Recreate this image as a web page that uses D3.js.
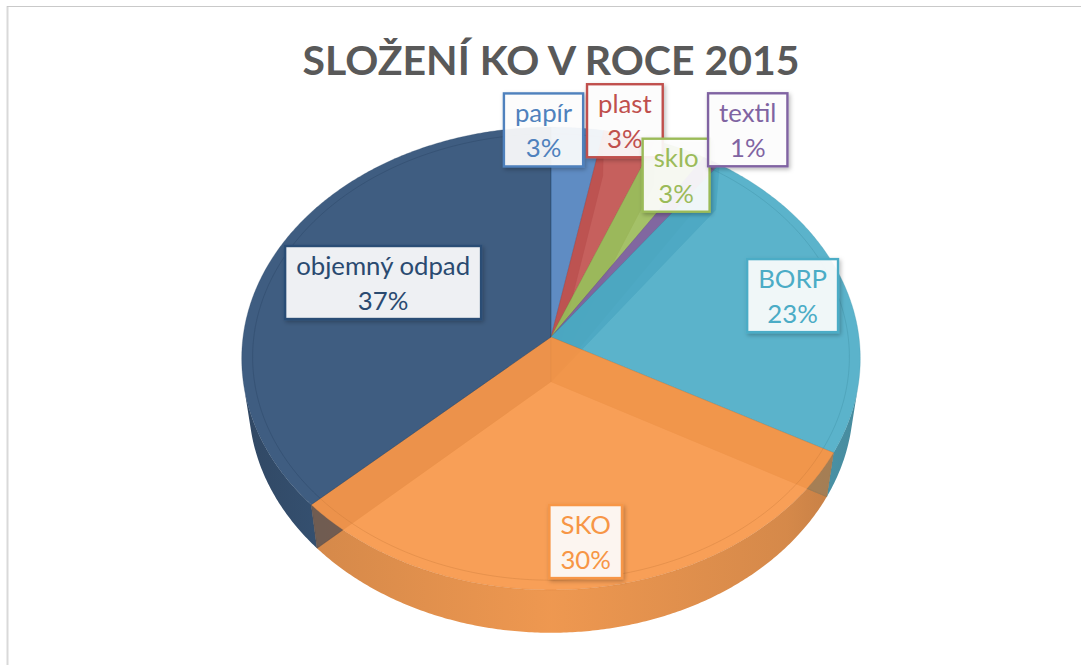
<!DOCTYPE html>
<html><head><meta charset="utf-8">
<script src="https://cdn.jsdelivr.net/npm/d3@7/dist/d3.min.js"></script>
<style>html,body{margin:0;padding:0;background:#fff;}svg{display:block;}</style>
</head><body>
<svg id="chart" width="1081" height="665"></svg>
<script>
// ---- data ----
const chartTitle = 'SLOŽENÍ KO V ROCE 2015';
const categories = ['papír', 'plast', 'sklo', 'textil', 'BORP', 'SKO', 'objemný odpad'];
const values = [3, 3, 3, 1, 23, 30, 37];
const percentLabels = ['3%', '3%', '3%', '1%', '23%', '30%', '37%'];
const seriesColors = ['#4F81BD', '#C0504D', '#9BBB59', '#8064A2', '#4BACC6', '#F79646', '#2C4D75'];

// ---- layout ----
const W = 1081, H = 665;
const cx = 551, cy = 337;            // projected pie centre
const focal = 2208, camDist = 7.17;   // perspective camera
const sinA = 0.745, cosA = 0.666;     // elevation
const depth = 0.223;                  // pie thickness (unit radius)
// label anchors: radius on slice mid angle + pixel nudges
const labelLayout = [
  {r: 1.0, dx: -34, dy: 2}, {r: 1.0, dx: -5, dy: -14}, {r: 1.0, dx: -4, dy: 27},
  {r: 1.0, dx: 36, dy: -31}, {r: 0.8, dx: 5, dy: -2}, {r: 0.83, dx: 0, dy: 0},
  {r: 0.6, dx: -2, dy: -1}
];

const svg = d3.select('#chart');
const defs = svg.append('defs');
const sh = defs.append('filter').attr('id', 'shadow').attr('x', '-20%').attr('y', '-20%').attr('width', '150%').attr('height', '150%');
sh.append('feDropShadow').attr('dx', 1.5).attr('dy', 2).attr('stdDeviation', 2).attr('flood-color', '#000').attr('flood-opacity', 0.28);

// chart border
svg.append('line').attr('x1', 7.5).attr('x2', 7.5).attr('y1', 6).attr('y2', H).attr('stroke', '#d9d9d9').attr('stroke-width', 2);
svg.append('line').attr('x1', 7).attr('x2', W).attr('y1', 6.5).attr('y2', 6.5).attr('stroke', '#c9c9c9').attr('stroke-width', 1);

// projection
function project(theta, r, y) {
  const X = r * Math.sin(theta), Z = -r * Math.cos(theta), Y = y;
  const d = camDist - (Y * sinA + Z * cosA);
  return [cx + focal * X / d, cy - focal * (Y * cosA - Z * sinA) / d];
}
const pie = d3.pie().sort(null).value(d => d).startAngle(0).endAngle(2 * Math.PI);
const arcs = pie(values);
const line = d3.line();
function arcPts(a0, a1, r, y) {
  const n = Math.max(2, Math.ceil((a1 - a0) / (Math.PI / 360)));
  return d3.range(n + 1).map(i => project(a0 + (a1 - a0) * i / n, r, y));
}

const pieG = svg.append('g');
const xExt = [cx - 310, cx + 310];

// wall gradients
seriesColors.forEach((c, i) => {
  const g = defs.append('linearGradient').attr('id', 'wall' + i).attr('gradientUnits', 'userSpaceOnUse')
    .attr('x1', xExt[0]).attr('x2', xExt[1]).attr('y1', 0).attr('y2', 0);
  const base = d3.color(c);
  [[0, 0.8], [0.12, 0.45], [0.5, 0.12], [0.88, 0.45], [1, 0.8]].forEach(([o, k]) => {
    g.append('stop').attr('offset', o).attr('stop-color', base.darker(k).formatHex());
  });
});

// outer walls (front visible part)
const visLo = Math.acos(-1 / (camDist * cosA)), visHi = 2 * Math.PI - visLo;
arcs.forEach((a, i) => {
  const a0 = Math.max(a.startAngle, visLo), a1 = Math.min(a.endAngle, visHi);
  if (a1 <= a0) return;
  const top = arcPts(a0, a1, 1, 0), bot = arcPts(a0, a1, 1, -depth).reverse();
  pieG.append('path').attr('d', line(top.concat(bot)) + 'Z')
    .attr('fill', `url(#wall${i})`).attr('fill-opacity', 0.93);
});
// radial walls
arcs.forEach((a, i) => {
  [a.startAngle, a.endAngle].forEach(t => {
    const pts = [project(t, 0, 0), project(t, 1, 0), project(t, 1, -depth), project(t, 0, -depth)];
    pieG.append('path').attr('d', line(pts) + 'Z')
      .attr('fill', d3.color(seriesColors[i]).darker(0.6).formatHex()).attr('fill-opacity', 0.55)
      .attr('stroke', d3.color(seriesColors[i]).darker(0.8).formatHex()).attr('stroke-opacity', 0.3).attr('stroke-width', 0.8);
  });
});
// tops
arcs.forEach((a, i) => {
  const pts = [project(0, 0, 0)].concat(arcPts(a.startAngle, a.endAngle, 1, 0));
  pieG.append('path').attr('d', line(pts) + 'Z')
    .attr('fill', seriesColors[i]).attr('fill-opacity', 0.91)
    .attr('stroke', d3.color(seriesColors[i]).darker(0.5).formatHex()).attr('stroke-opacity', 0.35).attr('stroke-width', 0.8);
});
// bevel ring
arcs.forEach((a, i) => {
  pieG.append('path').attr('d', line(arcPts(a.startAngle, a.endAngle, 0.965, 0)))
    .attr('fill', 'none').attr('stroke', d3.color(seriesColors[i]).darker(0.6).formatHex())
    .attr('stroke-opacity', 0.35).attr('stroke-width', 1);
});

// title
const title = svg.append('text').text(chartTitle)
  .attr('x', cx).attr('y', 75).attr('text-anchor', 'middle')
  .style('font-family', 'Lato, "Open Sans", sans-serif').style('font-weight', 700)
  .style('font-size', '48px').attr('fill', '#595959');
const tw = title.node().getComputedTextLength();
title.style('font-size', (48 * 497 / tw).toFixed(2) + 'px');

// label font size fitted
const probe = svg.append('text').text(categories[6]).style('font-family', 'Lato, "Open Sans", sans-serif').style('font-size', '24px');
const fs = 24 * 174 / probe.node().getComputedTextLength();
probe.remove();

const labG = svg.append('g');
arcs.forEach((a, i) => {
  const mid = (a.startAngle + a.endAngle) / 2;
  const L = labelLayout[i];
  const p = project(mid, L.r, 0);
  const bx = p[0] + L.dx, by = p[1] + L.dy;
  const g = labG.append('g');
  const rect = g.append('rect');
  const t1 = g.append('text').text(categories[i]).attr('x', bx).attr('y', by - 0.3 * fs);
  const t2 = g.append('text').text(percentLabels[i]).attr('x', bx).attr('y', by + 1.06 * fs);
  g.selectAll('text').attr('text-anchor', 'middle').style('font-family', 'Lato, "Open Sans", sans-serif')
    .style('font-size', fs + 'px').attr('fill', i === 6 ? '#2a4a70' : seriesColors[i]);
  const w = Math.max(t1.node().getComputedTextLength(), t2.node().getComputedTextLength()) + 22;
  const h = 73;
  rect.attr('x', bx - w / 2).attr('y', by - h / 2).attr('width', w).attr('height', h)
    .attr('fill', '#fff').attr('fill-opacity', 0.9)
    .attr('stroke', seriesColors[i]).attr('stroke-width', 2.4).attr('filter', 'url(#shadow)');
});
</script>
</body></html>
